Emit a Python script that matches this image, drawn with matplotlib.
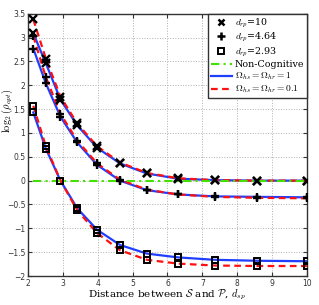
import matplotlib.pyplot as plt
from matplotlib.lines import Line2D

plt.rcParams['mathtext.fontset'] = 'cm'
plt.rcParams['font.family'] = 'DejaVu Serif'

# distance between S and P (marker positions)
d_sp = [2.15, 2.51, 2.93, 3.41, 3.98, 4.64, 5.41, 6.31, 7.36, 8.58, 10.0]

# log2(rho_opt) for d_rp = 10
d10_om1 = [3.09, 2.46, 1.70, 1.16, 0.69, 0.36, 0.15, 0.04, 0.01, 0.0, 0.0]
d10_om01 = [3.38, 2.56, 1.76, 1.20, 0.72, 0.38, 0.16, 0.05, 0.01, 0.0, 0.0]
# d_rp = 4.64
d464_om1 = [2.77, 2.04, 1.34, 0.80, 0.33, 0.0, -0.20, -0.29, -0.33, -0.34, -0.35]
d464_om01 = [3.03, 2.17, 1.40, 0.84, 0.36, 0.02, -0.19, -0.29, -0.34, -0.36, -0.37]
# d_rp = 2.93
d293_om1 = [1.43, 0.67, 0.0, -0.58, -1.03, -1.35, -1.53, -1.61, -1.66, -1.68, -1.69]
d293_om01 = [1.57, 0.72, 0.0, -0.62, -1.10, -1.46, -1.66, -1.74, -1.78, -1.79, -1.79]
# non-cognitive reference
non_cog = [0.0] * len(d_sp)

xticks = [2, 3, 4, 5, 6, 7, 8, 9, 10]
yticks = [-2, -1.5, -1, -0.5, 0, 0.5, 1, 1.5, 2, 2.5, 3, 3.5]

blue = '#1f3fff'
red = '#ff1010'
green = '#44e000'

fig = plt.figure(figsize=(3.19, 3.05), dpi=100)
ax = fig.add_axes([0.088, 0.095, 0.874, 0.86])

groups = [(d10_om1, d10_om01, 'x'), (d464_om1, d464_om01, '+'), (d293_om1, d293_om01, 's')]
for y1, y01, m in groups:
    ax.plot(d_sp, y1, color=blue, lw=1.6, zorder=3)
    ax.plot(d_sp, y01, color=red, lw=1.6, ls=(0, (3, 2)), zorder=4)
ax.plot(d_sp, non_cog, color=green, lw=1.5, ls=(0, (4, 2, 1, 2)), zorder=5)
for y1, y01, m in groups:
    for y in (y1, y01):
        if m == 's':
            ax.plot(d_sp, y, ls='none', marker='s', ms=5, mfc='none', mec='black', mew=1.4, zorder=6)
        else:
            ax.plot(d_sp, y, ls='none', marker=m, ms=6, mec='black', mew=1.7, zorder=6)

ax.set_xlim(2, 10)
ax.set_ylim(-2, 3.5)
ax.set_xticks(xticks)
ax.set_yticks(yticks)
ax.set_xticklabels([str(t) for t in xticks], family='DejaVu Sans')
ax.set_yticklabels([('%g' % t).replace('-', '\u2212') for t in yticks], family='DejaVu Sans')
ax.tick_params(direction='in', labelsize=5.5, length=3, pad=2, colors='#333333', top=True, right=True)
ax.grid(True, ls=':', color='#b0b0b0', lw=0.7)
for s in ax.spines.values():
    s.set_color('#333333')
    s.set_linewidth(1.0)

ax.set_xlabel(r'Distance between $\mathcal{S}$ and $\mathcal{P}$, $d_{sp}$', fontsize=7.5, labelpad=0)
ax.set_ylabel(r'$\log_2(\rho_{opt})$', fontsize=7.5)
ax.yaxis.set_label_coords(-0.048, 0.63)

handles = [
    Line2D([], [], ls='none', marker='x', ms=5, mec='black', mew=1.8),
    Line2D([], [], ls='none', marker='+', ms=6, mec='black', mew=1.8),
    Line2D([], [], ls='none', marker='s', ms=4, mfc='none', mec='black', mew=1.4),
    Line2D([], [], color=green, lw=1.5, ls=(0, (4, 2, 1, 2))),
    Line2D([], [], color=blue, lw=1.6),
    Line2D([], [], color=red, lw=1.6, ls=(0, (3, 2))),
]
labels = [r'$d_{rp}$=10', r'$d_{rp}$=4.64', r'$d_{rp}$=2.93', 'Non-Cognitive',
          r'$\Omega_{hs}=\Omega_{hr}=1$', r'$\Omega_{hs}=\Omega_{hr}=0.1$']
leg = ax.legend(handles, labels, loc='upper right', fontsize=6.8, borderaxespad=0,
                fancybox=False, framealpha=1, edgecolor='#333333', handlelength=2.2,
                handletextpad=0.3, labelspacing=0.15, borderpad=0.3)
leg.get_frame().set_linewidth(1.0)

fig.savefig('out.png', dpi=100)
